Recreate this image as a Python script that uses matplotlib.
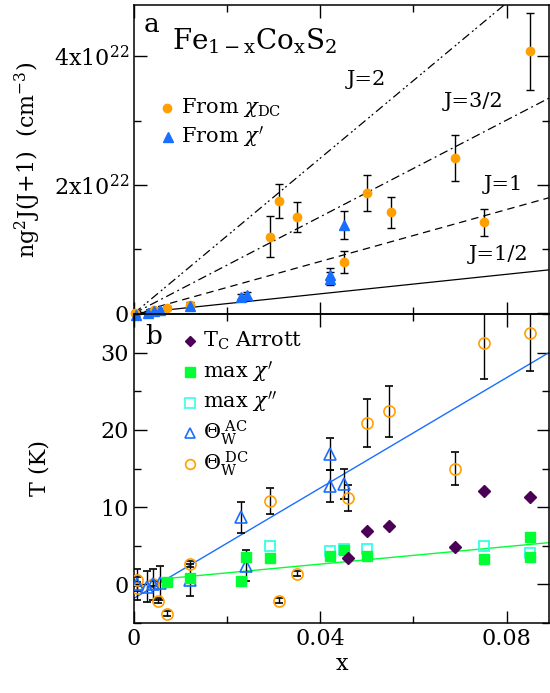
import numpy as np
import matplotlib
matplotlib.use("Agg")
import matplotlib.pyplot as plt
from matplotlib.ticker import MultipleLocator, FuncFormatter

plt.rcParams["font.family"] = "DejaVu Serif"
plt.rcParams["mathtext.fontset"] = "dejavuserif"

# ---------------- panel a : effective moment density (units of 1e22 cm^-3)
dc_x = [0.0002, 0.0043, 0.0070, 0.0120, 0.0291, 0.0311, 0.0351, 0.0451,
        0.0501, 0.0551, 0.0690, 0.0751, 0.0850]
dc_y = [0.0, 0.06, 0.09, 0.13, 1.19, 1.75, 1.50, 0.80, 1.88, 1.57, 2.42,
        1.42, 4.08]
dc_err = [0.02, 0.03, 0.03, 0.04, 0.32, 0.26, 0.23, 0.17, 0.28, 0.24, 0.36,
          0.21, 0.60]

ac_x = [0.0004, 0.0031, 0.0042, 0.0056, 0.0120, 0.0229, 0.0242, 0.0421,
        0.0421, 0.0451]
ac_y = [-0.02, 0.01, 0.04, 0.06, 0.12, 0.26, 0.29, 0.60, 0.54, 1.38]
ac_err = [0.02, 0.03, 0.03, 0.03, 0.03, 0.04, 0.05, 0.10, 0.10, 0.22]

# reference lines y = slope * x for each J
j_labels = ["J=1/2", "J=1", "J=3/2", "J=2"]
j_slopes = [7.6, 20.2, 37.6, 60.4]
j_styles = ["-", (0, (6, 4)), (0, (7, 3, 1.5, 3)), (0, (7, 3, 1.5, 2, 1.5, 3))]
j_text_pos = [(0.0782, 0.91), (0.0794, 2.00), (0.0729, 3.30), (0.0499, 3.64)]

# ---------------- panel b : temperatures (K)
tc_x = [0.0460, 0.0501, 0.0547, 0.0690, 0.0751, 0.0850]
tc_y = [3.4, 6.85, 7.6, 4.9, 12.1, 11.3]

max1_x = [0.0070, 0.0120, 0.0229, 0.0240, 0.0291, 0.0421, 0.0451, 0.0501,
          0.0751, 0.0850, 0.0850]
max1_y = [0.25, 0.8, 0.5, 3.5, 3.4, 3.7, 4.4, 3.7, 3.3, 6.1, 3.6]

max2_x = [0.0291, 0.0421, 0.0451, 0.0501, 0.0751, 0.0850]
max2_y = [5.0, 4.35, 4.6, 4.6, 5.0, 4.05]

thac_x = [0.0006, 0.0027, 0.0040, 0.0056, 0.0120, 0.0229, 0.0240, 0.0421,
          0.0421, 0.0451]
thac_y = [0.0, -0.3, 0.0, 0.2, 0.6, 8.7, 2.4, 16.9, 12.7, 13.0]
thac_err = [2.0, 2.0, 2.0, 2.2, 2.1, 2.0, 2.0, 2.1, 2.1, 2.0]

thdc_x = [0.0006, 0.0006, 0.0040, 0.0052, 0.0070, 0.0120, 0.0291, 0.0311,
          0.0351, 0.0460, 0.0501, 0.0547, 0.0690, 0.0751, 0.0850]
thdc_y = [0.6, -0.5, 0.1, -2.1, -3.8, 2.6, 10.8, -2.1, 1.37, 11.2, 20.9,
          22.4, 15.0, 31.2, 32.6]
thdc_err = [0.3, 0.3, 0.3, 0.3, 0.3, 0.4, 1.7, 0.3, 0.3, 1.7, 3.1, 3.3, 2.2,
            4.6, 5.0]

# linear fits: (slope, intercept, x start)
fit_ac = (357.0, -1.8, 0.0)
fit_max = (56.6, 0.36, 0.0063)

ORANGE = "#ffa000"
BLUE = "#1a6eff"
GREEN = "#00ff33"
CYAN = "#33ffe6"
PURPLE = "#4b0055"

XMAX = 0.0891

fig = plt.figure(figsize=(5.5, 6.93), dpi=100)
ax1 = fig.add_axes([134 / 550, 1 - 314 / 693, 415 / 550, 309 / 693])
ax2 = fig.add_axes([134 / 550, 1 - 623 / 693, 415 / 550, 309 / 693])
ax2.patch.set_visible(False)

for ax in (ax1, ax2):
    ax.set_xlim(0, XMAX)
    ax.xaxis.set_major_locator(MultipleLocator(0.04))
    ax.xaxis.set_minor_locator(MultipleLocator(0.02))
    ax.tick_params(which="both", direction="in", top=True, right=True,
                   labelsize=16, width=1)
    ax.tick_params(which="major", length=9)
    ax.tick_params(which="minor", length=5)
    for s in ax.spines.values():
        s.set_linewidth(1.1)

# ---- panel a
xx = np.array([0, XMAX])
for lab, k, ls, (tx, ty) in zip(j_labels, j_slopes, j_styles, j_text_pos):
    ax1.plot(xx, k * xx, color="black", lw=0.9, ls=ls)
    ax1.text(tx, ty, lab, fontsize=15, ha="center", va="center")

ax1.errorbar(dc_x, dc_y, yerr=dc_err, fmt="o", color=ORANGE, ms=6,
             ecolor="black", elinewidth=1, capsize=3, clip_on=False, zorder=3)
ax1.errorbar(ac_x, ac_y, yerr=ac_err, fmt="^", color=BLUE, ms=6.5,
             ecolor="black", elinewidth=1, capsize=3, clip_on=False, zorder=3)

ax1.set_ylim(-0.01, 4.80)
ax1.yaxis.set_major_locator(MultipleLocator(2))
ax1.yaxis.set_minor_locator(MultipleLocator(1))
ax1.yaxis.set_major_formatter(FuncFormatter(
    lambda v, p: "0" if abs(v) < 1e-9 else r"%dx10$^{22}$" % round(v)))
ax1.tick_params(labelbottom=False)
ax1.set_ylabel(r"ng$^2$J(J+1)  (cm$^{-3}$)", fontsize=16, labelpad=8)

ax1.text(0.0038, 4.49, "a", fontsize=19, ha="center", va="center")
ax1.text(0.0082, 4.23, r"Fe$_{\mathrm{1-x}}$Co$_{\mathrm{x}}$S$_{\mathrm{2}}$",
         fontsize=20, ha="left", va="center")

# hand-placed key
ax1.plot([0.0070], [3.20], "o", color=ORANGE, ms=6)
ax1.text(0.0101, 3.20, r"From $\chi_{\mathrm{DC}}$", fontsize=15, va="center")
ax1.plot([0.0073], [2.74], "^", color=BLUE, ms=6.5)
ax1.text(0.0101, 2.74, r"From $\chi'$", fontsize=15, va="center")

# ---- panel b
for (k, b, x0), col in zip([fit_ac, fit_max], [BLUE, GREEN]):
    lx = np.array([x0, XMAX])
    ax2.plot(lx, k * lx + b, color=col, lw=1)

ax2.errorbar(thdc_x, thdc_y, yerr=thdc_err, fmt="o", mfc="none", mec=ORANGE,
             mew=1.2, ms=8, ecolor="black", elinewidth=1, capsize=3, zorder=3)
ax2.errorbar(thac_x, thac_y, yerr=thac_err, fmt="^", mfc="none", mec=BLUE,
             mew=1.2, ms=8, ecolor="black", elinewidth=1, capsize=3, zorder=3)
ax2.plot(max2_x, max2_y, "s", mfc="none", mec=CYAN, mew=1.3, ms=7.5, zorder=4)
ax2.plot(max1_x, max1_y, "s", color=GREEN, ms=7.5, zorder=4)
ax2.plot(tc_x, tc_y, "D", color=PURPLE, ms=6, zorder=5)

ax2.set_ylim(-5, 35)
ax2.yaxis.set_major_locator(MultipleLocator(10))
ax2.yaxis.set_minor_locator(MultipleLocator(5))
ax2.xaxis.set_major_formatter(FuncFormatter(
    lambda v, p: "0" if abs(v) < 1e-9 else "%.2f" % v))
ax2.set_ylabel("T (K)", fontsize=16, labelpad=36)
ax2.set_xlabel("x", fontsize=16, labelpad=2)

ax2.text(0.0043, 32.1, "b", fontsize=19, ha="center", va="center")
key_y = [31.55, 27.5, 23.5, 19.6, 15.6]
key_txt = [r"T$_{\mathrm{C}}$ Arrott", r"max $\chi'$", r"max $\chi''$",
           r"$\Theta_{\mathrm{W}}^{\ \mathrm{AC}}$",
           r"$\Theta_{\mathrm{W}}^{\ \mathrm{DC}}$"]
key_sty = [dict(marker="D", color=PURPLE, ms=5),
           dict(marker="s", color=GREEN, ms=7),
           dict(marker="s", mfc="none", mec=CYAN, mew=1.2, ms=6.5),
           dict(marker="^", mfc="none", mec=BLUE, mew=1.2, ms=7),
           dict(marker="o", mfc="none", mec=ORANGE, mew=1.2, ms=7)]
for ky, kt, st in zip(key_y, key_txt, key_sty):
    ax2.plot([0.0120], [ky], ls="none", **st)
    ax2.text(0.0148, ky, kt, fontsize=15, va="center")

fig.savefig("out.png", dpi=100)
